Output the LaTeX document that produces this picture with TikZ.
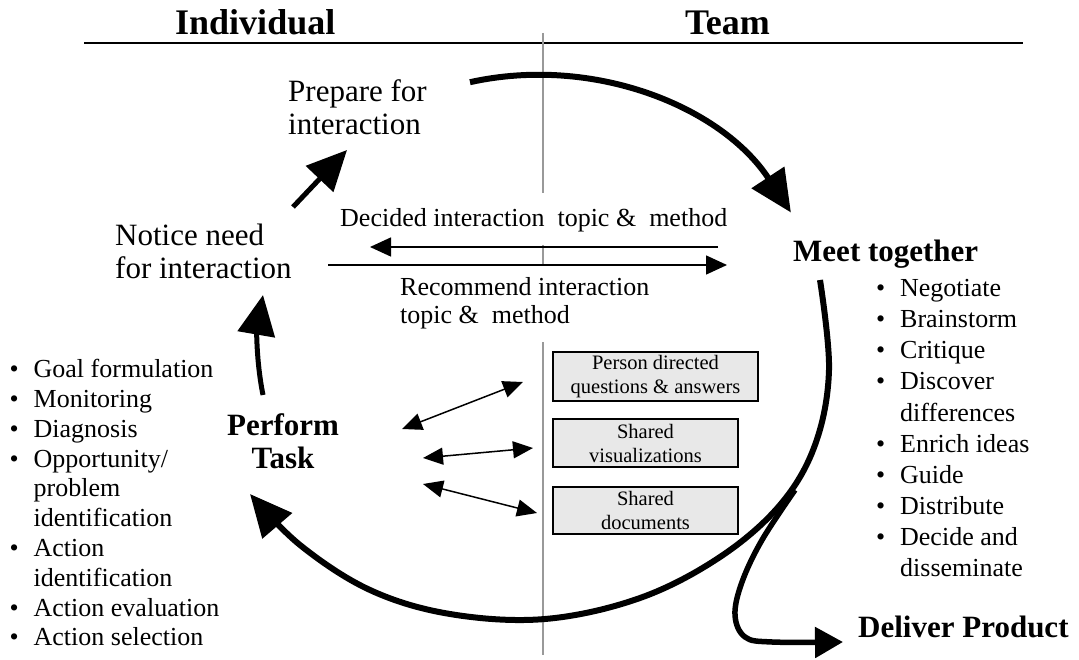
\documentclass[tikz,border=0pt]{standalone}
\usepackage{fontspec}
\setmainfont{Liberation Serif}
\usetikzlibrary{arrows.meta}
\newcommand\bu{\makebox[24pt][l]{\textbullet}}
\newcommand\nb{\hspace*{24pt}}
\begin{document}
\begin{tikzpicture}[x=1pt,y=-1pt,
  big/.style={line width=6pt},
  bigtip/.style={-{Triangle[length=42pt,width=38pt]}},
  medarr/.style={line width=5pt,-{Triangle[length=40pt,width=37pt]}},
  thinarr/.style={line width=1.5pt,-{Triangle[length=21pt,width=19pt]}},
  dblarr/.style={line width=1.5pt,{Triangle[length=20pt,width=17pt]}-{Triangle[length=20pt,width=17pt]}},
  divider/.style={line width=1.5pt,draw=black!40},
  lbl/.style={inner sep=0pt,font=\fontsize{31}{33}\selectfont,align=left},
  blbl/.style={inner sep=0pt,font=\fontsize{31}{33}\selectfont\bfseries,align=center},
  head/.style={inner sep=0pt,font=\fontsize{36}{40}\selectfont\bfseries},
  mid/.style={inner sep=0pt,font=\fontsize{26}{28}\selectfont,align=left},
  list/.style={inner sep=0pt,align=left},
  boxed/.style={draw=black,line width=1.5pt,fill=black!9,inner sep=0pt,
     font=\fontsize{20.5}{24}\selectfont,align=center}
]
\useasboundingbox (0,0) rectangle (1079,660);

% header
\node[head,anchor=base west] (indiv) at (175,35) {Individual};
\node[head,anchor=base west] (team) at (685,35) {Team};
\coordinate (hl) at (84,43);
\coordinate (hr) at (1023,43);
\draw[line width=2pt] (hl) -- (hr);

% divider
\coordinate (d1) at (543,33);
\coordinate (d2) at (543,193);
\coordinate (d3) at (543,245);
\coordinate (d4) at (543,265);
\coordinate (d5) at (543,342);
\coordinate (d6) at (543,655);
\draw[divider] (d1) -- (d2);
\draw[divider] (d3) -- (d4);
\draw[divider] (d5) -- (d6);

% main labels
\node[lbl,anchor=north west] (prep) at (288,79) {Prepare for\\interaction};
\node[lbl,anchor=north west] (notice) at (115,224) {Notice need\\for interaction};
\node[blbl,anchor=base west] (meet) at (793,262) {Meet together};
\node[blbl,anchor=north] (perf) at (283,413.5) {Perform\\Task};
\node[blbl,anchor=base west] (deliv) at (858,637) {Deliver Product};

\node[mid,anchor=base west] (decided) at (340,227) {Decided interaction\ \ topic \&\ \ method};
\node[mid,anchor=north west] (recomm) at (400,277) {Recommend interaction\\topic \&\ \ method};

% bullet lists
\node[list,anchor=north west,font=\fontsize{26}{29.8}\selectfont] (leftlist) at (9.5,359.2) {%
\bu Goal formulation\\
\bu Monitoring\\
\bu Diagnosis\\
\bu Opportunity/\\
\nb problem\\
\nb identification\\
\bu Action\\
\nb identification\\
\bu Action evaluation\\
\bu Action selection};

\node[list,anchor=north west,font=\fontsize{26}{31.1}\selectfont] (rightlist) at (876,279.2) {%
\bu Negotiate\\
\bu Brainstorm\\
\bu Critique\\
\bu Discover\\
\nb differences\\
\bu Enrich ideas\\
\bu Guide\\
\bu Distribute\\
\bu Decide and\\
\nb disseminate};

% boxes
\node[boxed,minimum width=205pt,minimum height=49pt] (b1) at (655.5,376.5) {Person directed\\questions \& answers};
\node[boxed,minimum width=185pt,minimum height=48pt] (b2) at (645.5,443) {Shared\\visualizations};
\node[boxed,minimum width=185pt,minimum height=47pt] (b3) at (645.5,510.5) {Shared\\documents};

% double arrows
\coordinate (a1l) at (402,429);
\coordinate (a1r) at (523,382);
\coordinate (a2l) at (423,458);
\coordinate (a2r) at (533,448);
\coordinate (a3l) at (423,484);
\coordinate (a3r) at (537,513);
\draw[dblarr] (a1l) -- (a1r);
\draw[dblarr] (a2l) -- (a2r);
\draw[dblarr] (a3l) -- (a3r);

% horizontal arrows
\coordinate (h1s) at (718,247);
\coordinate (h1e) at (370,247);
\coordinate (h2s) at (328,265);
\coordinate (h2e) at (727,265);
\draw[thinarr] (h1s) -- (h1e);
\draw[thinarr] (h2s) -- (h2e);

% thick arrows on the left
\coordinate (pt1) at (263,395);
\coordinate (pt2) at (263,295);
\draw[medarr] (pt1) .. controls (256,360) and (257,330) .. (pt2);
\coordinate (np1) at (293,207);
\coordinate (np2) at (347,150);
\draw[medarr] (np1) -- (np2);

% big cycle
\coordinate (arcA) at (470,82.2);
\draw[big,bigtip] (arcA) arc[start angle=-102.5,end angle=-33.3,radius=305];

\coordinate (loopS) at (820,280);
\draw[big,bigtip] plot[smooth,tension=0.6] coordinates {(loopS) (829,370) (815,445) (780,505) (720,557) (640,598) (545,619) (450,614) (370,590) (300,545) (250,494)};

\coordinate (delS) at (795,490);
\draw[line width=5.5pt,-{Triangle[length=28pt,width=30pt]}] plot[smooth,tension=0.6] coordinates {(delS) (762,540) (742,582) (735,615) (745,637) (772,642) (843,642)};
\end{tikzpicture}
\end{document}
